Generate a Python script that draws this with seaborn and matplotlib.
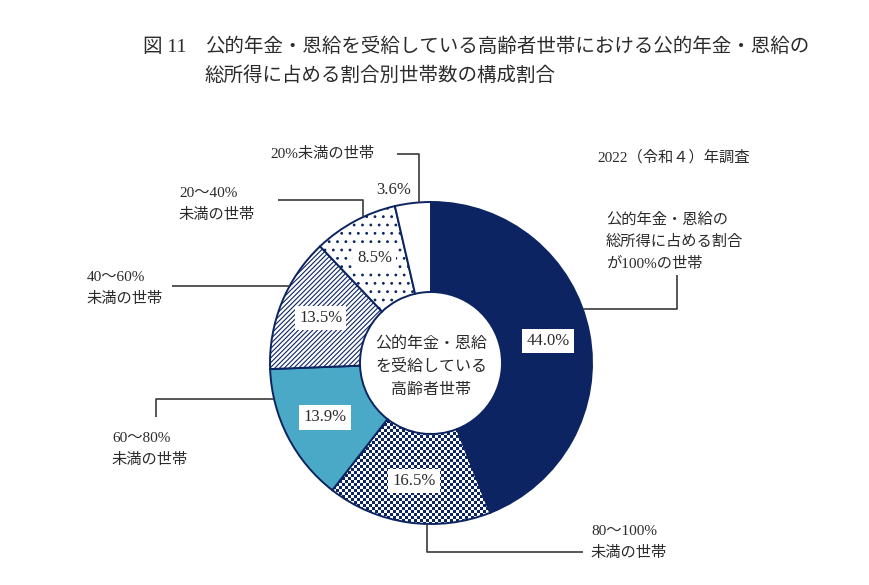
"""
図11 公的年金・恩給の総所得に占める割合別世帯数の構成割合 (donut chart)
"""

import numpy as np
import matplotlib
matplotlib.use('Agg')
import matplotlib.pyplot as plt
from matplotlib.colors import ListedColormap
import seaborn as sns

# -------------------------------
# data
# -------------------------------
shares = [44.0, 16.5, 13.9, 13.5, 8.5, 3.6]
share_labels = ['44.0%', '16.5%', '13.9%', '13.5%', '8.5%', '3.6%']
group_names = [
    '公的年金・恩給の\n総所得に占める割合\nが100%の世帯',
    '80〜100%\n未満の世帯',
    '60〜80%\n未満の世帯',
    '40〜60%\n未満の世帯',
    '20〜40%\n未満の世帯',
    '20%未満の世帯',
]
center_text = '公的年金・恩給\nを受給している\n高齢者世帯'
fig_no = '図 11'
title_lines = ['公的年金・恩給を受給している高齢者世帯における公的年金・恩給の',
               '総所得に占める割合別世帯数の構成割合']
survey_note = '2022（令和４）年調査'

# -------------------------------
# style
# -------------------------------
sns.set_theme(style='white')
plt.rcParams['font.family'] = ['Liberation Serif', 'Noto Sans CJK JP', 'DejaVu Sans']
plt.rcParams['hatch.linewidth'] = 0.8

W, H = 870, 585
CX, CY = 431, 363          # donut centre (pixels from top-left)
R, R_IN = 161, 71
NAVY = '#0c2461'
AQUA = '#4aa9c6'
TXT = '#2b2b2b'
LINE = '#3a3a3a'

fills = [NAVY, 'none', AQUA, 'white', 'white', 'white']
hatches = [None, None, None, '///////', '..', None]

# leader lines: anchor angle on the outer edge, then moves ('h', x) / ('v', y)
leaders = [
    (19.6, [('h', 677), ('v', 275)]),
    (268.5, [('v', 552), ('h', 583)]),
    (193.0, [('h', 156), ('v', 417)]),
    (151.4, [('h', 172)]),
    (115.1, [('v', 200), ('h', 278)]),
    (94.3, [('v', 154), ('h', 397)]),
]
# label text anchor (left, top) in pixels
label_pos = [(606, 213), (591, 525), (112, 432), (87, 271), (179, 187), (270, 147)]


def py(y):
    return H - y


fig = plt.figure(figsize=(W / 100, H / 100), dpi=100)
ax = fig.add_axes([0, 0, 1, 1])

wedges, _ = ax.pie(
    shares, startangle=90, counterclock=False, radius=R,
    center=(CX, py(CY)), colors=['white'] * len(shares),
    wedgeprops=dict(width=R - R_IN, edgecolor=NAVY, linewidth=1.4),
)
for w, fc, ht in zip(wedges, fills, hatches):
    w.set_facecolor(fc)
    if ht:
        w.set_hatch(ht)
    w.set_zorder(3)

# checkerboard fill for the 80〜100% wedge
cell = 3
jj, ii = np.meshgrid(np.arange(W // cell), np.arange(H // cell))
checker = (ii + jj) % 2
im = ax.imshow(checker, cmap=ListedColormap(['white', NAVY]), extent=(0, W, 0, H),
               interpolation='nearest', origin='lower', zorder=2)
im.set_clip_path(wedges[1])

ax.set_xlim(0, W)
ax.set_ylim(0, H)
ax.set_aspect('auto')
ax.axis('off')

# percentage labels
for k, (w, lab) in enumerate(zip(wedges, share_labels)):
    mid = np.deg2rad((w.theta1 + w.theta2) / 2)
    if k == len(wedges) - 1:
        r = R * 1.08
        ax.text(CX + r * np.cos(mid), py(CY) + r * np.sin(mid), lab, ha='right',
                va='center', fontsize=12, color=TXT, zorder=5)
    else:
        r = R * 0.74
        ax.text(CX + r * np.cos(mid), py(CY) + r * np.sin(mid), lab, ha='center',
                va='center', fontsize=12, color=TXT, zorder=5,
                bbox=dict(boxstyle='square,pad=0.25', fc='white', ec='none'))

# leader lines
for ang, moves in leaders:
    a = np.deg2rad(ang)
    x, y = CX + R * np.cos(a), CY - R * np.sin(a)
    xs, ys = [x], [y]
    for kind, v in moves:
        if kind == 'h':
            x = v
        else:
            y = v
        xs.append(x)
        ys.append(y)
    ax.plot(xs, [py(v) for v in ys], color=LINE, lw=1.2, zorder=4,
            solid_capstyle='butt')

# group labels
for name, (lx, ly) in zip(group_names, label_pos):
    ax.text(lx, py(ly), name, ha='left', va='top', fontsize=11, color=TXT,
            linespacing=1.7)

ax.text(CX, py(367), center_text, ha='center', va='center', fontsize=11.5,
        color=TXT, linespacing=1.6, multialignment='center', zorder=5)

ax.text(597, py(157), survey_note, ha='left', va='center', fontsize=11, color=TXT)

# title
ax.text(143, py(47), fig_no, ha='left', va='center', fontsize=14, color=TXT)
ax.text(205, py(47), title_lines[0], ha='left', va='center', fontsize=14, color=TXT)
ax.text(205, py(76), title_lines[1], ha='left', va='center', fontsize=14, color=TXT)

fig.savefig('out.png', dpi=100, facecolor='white')
